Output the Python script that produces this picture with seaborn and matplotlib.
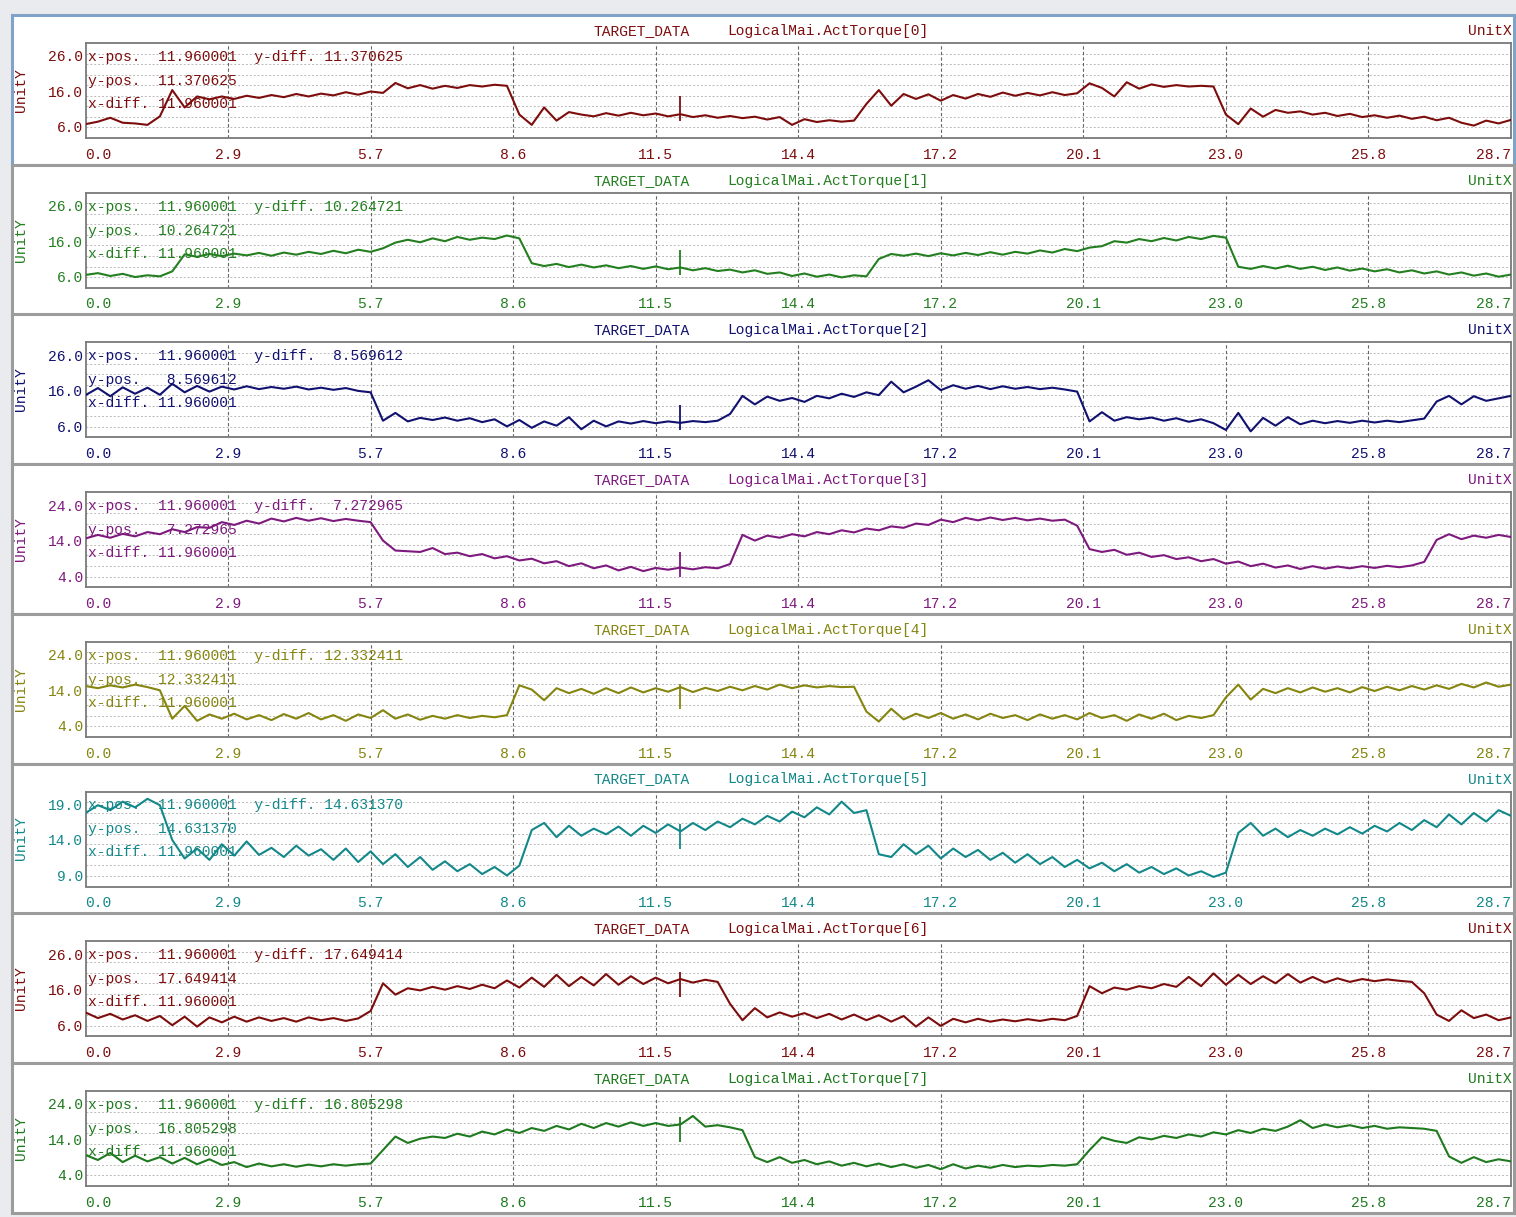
import numpy as np
import matplotlib
matplotlib.use("Agg")
import matplotlib.pyplot as plt
from matplotlib.patches import Rectangle
import seaborn as sns

# sample times, one reading every ~0.25 s
t = np.linspace(0, 28.7, 116)

# torque readings (116 values each)
torque0 = [6.8, 7.5, 8.6, 7.2, 7.0, 6.6, 9.0, 16.4, 11.5, 14.6,
           13.8, 14.6, 13.9, 14.8, 14.2, 15.0, 14.4, 15.3, 14.6, 15.4,
           14.9, 15.8, 15.1, 16.0, 15.6, 18.4, 16.9, 17.8, 16.8, 17.6,
           17.0, 17.8, 17.4, 17.9, 17.6, 9.5, 6.6, 11.5, 7.8, 10.2,
           9.5, 9.0, 9.9, 9.2, 10.0, 9.3, 9.8, 9.0, 9.6, 8.8,
           9.3, 8.6, 9.1, 8.5, 8.9, 8.1, 8.8, 6.6, 8.2, 7.4,
           7.9, 7.5, 7.8, 12.5, 16.4, 12.0, 15.3, 13.9, 15.2, 13.4,
           15.0, 14.0, 15.3, 14.5, 15.7, 14.8, 15.6, 14.9, 15.8, 15.0,
           15.5, 18.3, 17.0, 14.6, 18.6, 16.8, 18.0, 17.3, 17.8, 17.4,
           17.6, 17.4, 9.5, 6.8, 11.2, 8.9, 10.8, 10.0, 10.4, 9.5,
           10.0, 9.1, 9.7, 8.8, 9.3, 8.6, 9.2, 8.3, 8.9, 7.9,
           8.6, 7.2, 6.4, 7.8, 7.0, 8.0]
torque1 = [6.5, 7.0, 6.2, 6.8, 5.9, 6.4, 6.1, 7.5, 12.3, 11.6,
           12.4, 11.8, 12.5, 12.0, 12.7, 11.9, 12.8, 12.2, 13.0, 12.4,
           13.3, 12.6, 13.6, 13.0, 14.0, 15.6, 16.4, 15.7, 16.8, 16.0,
           17.2, 16.4, 17.0, 16.6, 17.6, 16.8, 9.8, 9.0, 9.6, 8.7,
           9.4, 8.6, 9.2, 8.4, 9.0, 8.2, 8.9, 8.1, 8.6, 7.8,
           8.4, 7.6, 8.0, 7.2, 7.8, 6.8, 7.2, 6.2, 6.9, 6.0,
           6.6, 5.8, 6.4, 6.1, 11.0, 12.4, 11.9, 12.5, 11.8, 12.6,
           12.0, 12.7, 12.1, 12.9, 12.2, 13.0, 12.5, 13.4, 12.8, 13.8,
           13.2, 14.2, 14.6, 16.0, 15.6, 16.6, 16.0, 16.9, 16.2, 17.2,
           16.6, 17.5, 17.0, 8.8, 8.2, 9.0, 8.3, 9.1, 8.2, 8.8,
           7.9, 8.6, 7.7, 8.3, 7.5, 8.1, 7.2, 7.8, 6.9, 7.5,
           6.6, 7.2, 6.3, 6.9, 6.0, 6.6]
torque2 = [14.8, 16.8, 14.5, 17.0, 15.2, 16.9, 14.9, 18.0, 15.6, 17.4,
           15.8, 17.2, 16.4, 17.3, 16.5, 17.1, 16.6, 17.2, 16.4, 16.9,
           16.3, 16.8, 16.0, 15.6, 7.6, 9.8, 7.4, 8.4, 7.8, 8.5,
           7.6, 8.3, 7.2, 8.0, 6.0, 7.8, 5.6, 7.4, 6.2, 8.6,
           5.2, 7.6, 6.0, 7.4, 6.8, 7.5, 6.9, 7.4, 7.0, 7.5,
           7.2, 7.6, 9.5, 14.6, 12.2, 14.4, 13.2, 14.0, 12.9, 14.6,
           13.9, 15.2, 14.3, 15.6, 14.8, 18.6, 15.6, 17.2, 19.0, 16.2,
           17.6, 16.6, 17.4, 16.5, 17.3, 16.6, 17.1, 16.5, 16.9, 16.4,
           15.8, 7.4, 10.0, 7.6, 8.6, 8.0, 8.5, 7.6, 8.3, 7.3,
           8.0, 6.9, 5.0, 9.8, 4.6, 8.4, 6.2, 8.6, 6.6, 7.6,
           6.9, 7.5, 7.0, 7.6, 7.1, 7.6, 7.2, 7.7, 8.2, 13.0,
           14.6, 12.2, 14.5, 13.2, 13.9, 14.6]
torque3 = [14.6, 15.6, 14.8, 15.9, 15.2, 16.4, 15.8, 17.2, 16.4, 17.8,
           17.6, 19.2, 18.4, 19.6, 18.8, 20.2, 19.4, 20.4, 19.6, 20.3,
           19.5, 20.1, 19.6, 19.2, 14.0, 11.2, 11.0, 10.8, 11.9, 10.2,
           10.6, 9.6, 10.2, 9.0, 9.6, 8.4, 8.9, 7.6, 8.2, 6.8,
           7.6, 6.2, 7.0, 5.6, 6.6, 5.4, 6.3, 5.8, 6.4, 5.9,
           6.5, 6.2, 7.4, 15.6, 14.0, 15.4, 14.8, 15.8, 15.2, 16.4,
           15.8, 16.9, 16.3, 17.4, 16.9, 18.0, 17.6, 18.8, 18.4, 19.9,
           19.2, 20.4, 19.7, 20.5, 19.8, 20.4, 19.7, 20.2, 19.6, 19.9,
           18.2, 11.6, 10.8, 11.4, 10.0, 10.6, 9.4, 9.9, 8.8, 9.3,
           8.2, 8.8, 7.5, 8.1, 6.8, 7.5, 6.4, 7.0, 6.0, 6.8,
           6.1, 6.7, 6.2, 6.8, 6.3, 6.9, 6.5, 7.0, 8.0, 14.2,
           15.8, 14.4, 15.4, 14.8, 15.6, 15.0]
torque4 = [15.2, 14.6, 15.4, 14.8, 15.6, 14.9, 14.0, 6.0, 9.6, 5.4,
           7.2, 6.0, 7.4, 5.8, 7.0, 5.6, 7.3, 6.0, 7.6, 5.8,
           7.0, 5.4, 7.2, 6.2, 8.4, 6.0, 7.2, 5.7, 6.8, 6.0,
           7.0, 6.2, 6.8, 6.4, 7.0, 15.4, 14.2, 11.2, 14.6, 13.2,
           14.4, 13.0, 14.6, 13.2, 14.8, 13.4, 14.6, 13.6, 14.9, 13.5,
           14.7, 13.8, 15.0, 14.0, 15.2, 14.2, 15.6, 14.6, 15.4, 14.8,
           15.2, 14.9, 15.0, 8.0, 5.2, 8.8, 5.8, 7.4, 6.2, 7.6,
           6.0, 7.2, 5.8, 7.4, 6.2, 7.0, 5.6, 7.2, 6.0, 7.0,
           5.8, 7.6, 6.2, 7.0, 5.4, 7.2, 6.0, 7.4, 5.6, 6.8,
           6.2, 7.0, 12.0, 15.6, 11.4, 14.4, 13.2, 14.6, 13.4, 14.8,
           13.6, 14.6, 13.4, 14.9, 13.8, 15.0, 14.0, 15.2, 14.2, 15.4,
           14.4, 15.8, 14.8, 16.2, 15.0, 15.6]
torque5 = [17.8, 18.9, 18.2, 19.4, 18.6, 19.8, 18.9, 14.0, 11.4, 12.8,
           11.2, 13.4, 11.8, 13.8, 11.9, 12.9, 11.6, 13.2, 11.8, 12.7,
           11.2, 12.8, 10.9, 12.4, 10.6, 12.0, 10.2, 11.6, 9.8, 11.0,
           9.6, 10.6, 9.2, 10.2, 9.0, 10.4, 15.4, 16.4, 14.4, 16.0,
           14.6, 15.6, 14.8, 15.9, 14.6, 16.0, 15.0, 16.2, 15.2, 16.4,
           15.4, 16.6, 15.8, 17.0, 16.2, 17.4, 16.6, 18.0, 17.2, 18.6,
           17.6, 19.4, 17.8, 18.2, 12.0, 11.6, 13.4, 12.0, 13.2, 11.4,
           12.8, 11.6, 12.6, 11.2, 12.2, 10.8, 12.0, 10.6, 11.6, 10.2,
           11.2, 10.0, 10.8, 9.6, 10.6, 9.4, 10.2, 9.2, 10.0, 9.0,
           9.6, 8.8, 9.4, 15.0, 16.4, 14.6, 15.6, 14.4, 15.4, 14.6,
           15.6, 14.8, 15.8, 14.9, 16.0, 15.2, 16.4, 15.4, 16.8, 15.8,
           17.6, 16.2, 17.8, 16.6, 18.2, 17.4]
torque6 = [9.6, 8.0, 9.2, 7.6, 8.8, 7.2, 8.6, 6.0, 8.4, 5.6,
           8.2, 6.8, 8.4, 7.0, 8.2, 7.2, 8.0, 7.0, 8.2, 7.4,
           8.0, 7.2, 7.9, 10.0, 17.8, 14.6, 16.4, 15.8, 16.8, 16.0,
           17.0, 16.2, 17.4, 16.4, 18.6, 16.6, 19.4, 16.8, 20.2, 17.0,
           19.6, 17.2, 20.4, 17.4, 19.8, 17.6, 19.4, 17.8, 19.0, 18.0,
           18.8, 18.2, 12.0, 7.4, 10.8, 8.2, 9.6, 8.4, 9.4, 8.0,
           9.2, 7.6, 9.0, 7.4, 8.8, 7.0, 8.6, 5.6, 8.2, 5.8,
           7.8, 6.8, 7.8, 7.0, 7.6, 7.1, 7.7, 7.2, 7.8, 7.4,
           8.6, 17.0, 15.0, 16.6, 16.0, 17.0, 16.4, 17.6, 16.8, 19.6,
           17.0, 20.6, 17.4, 20.2, 17.6, 19.8, 17.8, 20.4, 18.0, 19.6,
           18.0, 19.2, 18.2, 19.0, 18.4, 18.9, 18.5, 18.2, 15.0, 9.0,
           7.2, 10.2, 8.0, 9.0, 7.4, 8.2]
torque7 = [9.6, 8.2, 10.2, 7.6, 9.4, 7.8, 9.0, 7.2, 8.8, 7.0,
           8.4, 6.8, 7.6, 6.2, 7.2, 6.4, 7.0, 6.3, 6.9, 6.4,
           7.0, 6.6, 7.0, 7.2, 11.0, 14.8, 13.0, 14.2, 14.8, 14.4,
           15.6, 14.8, 16.2, 15.4, 16.8, 15.8, 17.2, 16.4, 17.8, 16.8,
           18.4, 17.2, 18.6, 17.6, 18.8, 17.8, 18.6, 17.8, 18.2, 20.6,
           17.6, 18.0, 17.4, 16.6, 9.0, 7.6, 9.0, 7.4, 8.2, 7.0,
           7.8, 6.6, 7.4, 6.4, 7.2, 6.2, 7.0, 6.0, 6.8, 5.6,
           7.0, 5.8, 6.6, 6.0, 6.8, 6.2, 6.6, 6.4, 6.8, 6.6,
           7.0, 11.0, 14.6, 13.6, 13.0, 14.6, 14.0, 15.0, 14.4, 15.4,
           14.8, 16.0, 15.4, 16.6, 15.8, 17.0, 16.4, 17.6, 19.4, 17.2,
           18.2, 17.4, 18.0, 17.2, 17.8, 17.0, 17.4, 17.2, 17.0, 16.4,
           9.2, 7.4, 9.0, 7.6, 8.4, 7.8]

series = [torque0, torque1, torque2, torque3, torque4, torque5, torque6, torque7]
channels = ["LogicalMai.ActTorque[%d]" % i for i in range(8)]
cursor_x = 11.960001
cursor_y = [11.370625, 10.264721, 8.569612, 7.272965,
            12.332411, 14.631370, 17.649414, 16.805298]
yticks = [(6, 16, 26), (6, 16, 26), (6, 16, 26), (4, 14, 24),
          (4, 14, 24), (9, 14, 19), (6, 16, 26), (4, 14, 24)]
xtick_labels = ["0.0", "2.9", "5.7", "8.6", "11.5", "14.4",
                "17.2", "20.1", "23.0", "25.8", "28.7"]
colors = ["#7d0d0d", "#237f1f", "#111170", "#7e1a7e",
          "#85850f", "#13888a", "#7d0d0d", "#1f7a1f"]

for s in series:
    assert len(s) == len(t)

sns.set_style("white")
plt.rcParams["font.family"] = ["Liberation Mono", "DejaVu Sans Mono"]
FS = 10.5

W, H = 1516, 1217
fig = plt.figure(figsize=(W / 100, H / 100), dpi=100, facecolor="#e9ebee")


def box(x0, y0, x1, y1):
    # pixel box (y from the top) -> figure fraction rect
    return [x0 / W, 1 - y1 / H, (x1 - x0) / W, (y1 - y0) / H]


def fx(px):
    return px / W


def fy(py):
    return 1 - py / H


xt = np.linspace(0, 28.7, 11)

for k in range(8):
    top = 43 + 149.7 * k
    c = colors[k]

    # panel frame, kept behind the axes
    r = box(12, top - 28, 1514, top + 122)
    fig.patches.append(Rectangle((r[0], r[1]), r[2], r[3], transform=fig.transFigure,
                                 fc="white", ec="#7fa3c9" if k == 0 else "#9c9c9c",
                                 lw=2.2, zorder=-10))

    ax = fig.add_axes(box(85.5, top, 1511, top + 95))
    ax.set_zorder(5)
    ax.set_facecolor("white")

    lo, hi = yticks[k][0], yticks[k][-1]
    span = hi - lo
    ylo, yhi = lo - 0.155 * span, hi + 0.183 * span

    # grid
    for j in range(1, 9):
        ax.axhline(ylo + (yhi - ylo) * j / 9, color="#b9b9b9", lw=0.7,
                   ls=(0, (2, 2)), zorder=0)
    for x in xt[1:-1]:
        ax.axvline(x, color="#666666", lw=0.8, ls=(0, (3, 2)), zorder=0)

    sns.lineplot(x=t, y=series[k], ax=ax, color=c, lw=1.5, zorder=3)
    ax.plot([cursor_x], [cursor_y[k]], marker="|", ms=18, mew=1.3, color=c, zorder=4)

    ax.set_xlim(0, 28.7)
    ax.set_ylim(ylo, yhi)
    ax.set_xticks(xt)
    ax.set_xticklabels(xtick_labels)
    ax.set_yticks(yticks[k])
    ax.set_yticklabels(["%.1f" % v for v in yticks[k]])
    ax.tick_params(axis="x", length=0, labelsize=FS, colors=c, pad=7)
    ax.tick_params(axis="y", length=0, labelsize=FS, colors=c, pad=1.5)
    labs = ax.get_xticklabels()
    labs[0].set_ha("left")
    labs[-1].set_ha("right")
    ax.set_xlabel("")
    ax.set_ylabel("")
    for sp in ax.spines.values():
        sp.set_color("#7a7a7a")
        sp.set_linewidth(1.3)

    # cursor readout
    lines = ["%-8s%9.6f  %-8s%9.6f" % ("x-pos.", cursor_x, "y-diff.", cursor_y[k]),
             "%-8s%9.6f" % ("y-pos.", cursor_y[k]),
             "%-8s%9.6f" % ("x-diff.", cursor_x)]
    for txt, off in zip(lines, [14, 38, 61]):
        ax.text(2 / 1425.5, 1 - off / 95, txt, transform=ax.transAxes,
                color=c, fontsize=FS, va="center", ha="left", zorder=5)

    # header and unit labels
    fig.text(fx(594), fy(top - 12), "TARGET_DATA", color=c, fontsize=FS,
             ha="left", va="center")
    fig.text(fx(727), fy(top - 12), channels[k], color=c, fontsize=FS,
             ha="left", va="center")
    fig.text(fx(1512), fy(top - 12), "UnitX", color=c, fontsize=FS,
             ha="right", va="center")
    fig.text(fx(21), fy(top + 47), "UnitY", color=c, fontsize=FS,
             ha="center", va="center", rotation=90)

fig.savefig("out.png", dpi=100, facecolor=fig.get_facecolor())
